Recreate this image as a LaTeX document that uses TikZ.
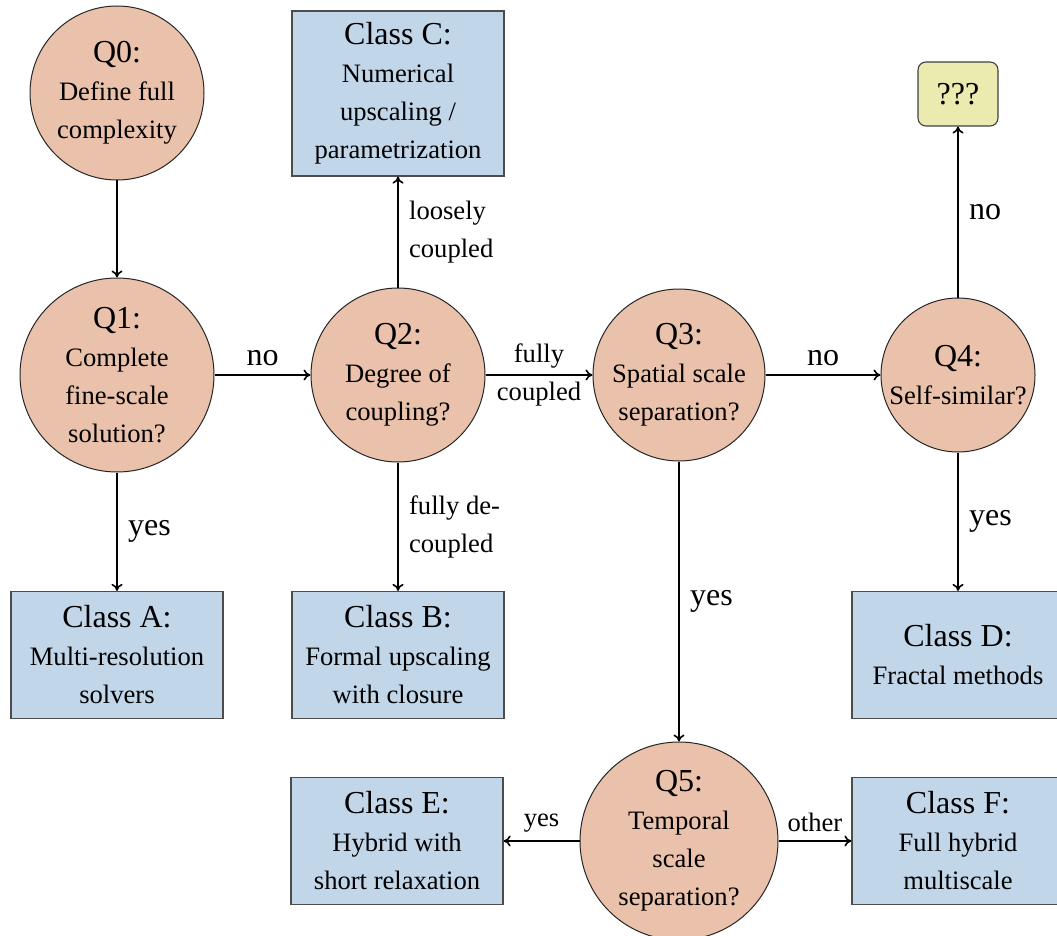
\documentclass[tikz,border=0pt]{standalone}
\usepackage{fontspec}
\setmainfont{Liberation Serif}
\usetikzlibrary{arrows.meta}
\definecolor{qfill}{HTML}{EAC1AB}
\definecolor{cfill}{HTML}{C2D6EA}
\definecolor{ufill}{HTML}{EBEBB0}
\newcommand{\bigf}{\fontsize{32}{38}\selectfont}
\newcommand{\smf}{\fontsize{26.6}{38}\selectfont}
\tikzset{
  qnode/.style={circle, draw=black!85, line width=1pt, fill=qfill, inner sep=0pt, align=center, font=\smf},
  classbox/.style={rectangle, draw=black!70, line width=1.3pt, fill=cfill, minimum width=212pt, minimum height=127pt, inner sep=0pt, align=center, font=\smf},
  unkbox/.style={rectangle, rounded corners=8pt, draw=black!75, line width=1.1pt, fill=ufill, minimum width=80pt, minimum height=64pt, inner sep=0pt, font=\bigf},
  arr/.style={-{To[length=7pt,width=11pt]}, line width=1.6pt},
  biglab/.style={font=\bigf},
  smlab/.style={font=\smf, align=left},
  rlab/.style={right, xshift=7pt},
  alab/.style={above, yshift=5pt},
}
\begin{document}
\begin{tikzpicture}[x=1pt,y=-1pt]
\useasboundingbox (0,0) rectangle (1057,936);
% question nodes
\node[qnode, minimum size=174pt] (q0) at (117,93) {{\bigf Q0:}\\Define full\\complexity};
\node[qnode, minimum size=194pt] (q1) at (117,375) {{\bigf Q1:}\\Complete\\fine-scale\\solution?};
\node[qnode, minimum size=174pt] (q2) at (398,375) {{\bigf Q2:}\\Degree of\\coupling?};
\node[qnode, minimum size=172pt] (q3) at (679,375) {{\bigf Q3:}\\Spatial scale\\separation?};
\node[qnode, minimum size=154pt] (q4) at (958,375) {{\bigf Q4:}\\Self-similar?};
\node[qnode, minimum size=198pt] (q5) at (679,841) {{\bigf Q5:}\\Temporal\\scale\\separation?};
% class boxes
\node[classbox] (ca) at (117,655) {{\bigf Class A:}\\Multi-resolution\\solvers};
\node[classbox] (cb) at (398,655) {{\bigf Class B:}\\Formal upscaling\\with closure};
\node[classbox, minimum height=165pt] (cc) at (398,93.5) {{\bigf Class C:}\\Numerical\\upscaling /\\parametrization};
\node[classbox] (cd) at (958,655) {{\bigf Class D:}\\Fractal methods};
\node[classbox] (ce) at (397,841) {{\bigf Class E:}\\Hybrid with\\short relaxation};
\node[classbox] (cf) at (958,841) {{\bigf Class F:}\\Full hybrid\\multiscale};
\node[unkbox] (unk) at (958,94) {???};
% connectors
\draw[arr] (q0) -- (q1);
\draw[arr] (q1) -- node[midway, alab, biglab] {no} (q2);
\draw[arr] (q1) -- node[midway, rlab, biglab] {yes} (ca);
\draw[arr] (q2) -- node[midway, rlab, smlab] {loosely\\coupled} (cc);
\draw[arr] (q2) -- node[midway, rlab, smlab] {fully de-\\coupled} (cb);
\draw[arr] (q2) -- node[midway, font=\smf, align=center] {fully\\coupled} (q3);
\draw[arr] (q3) -- node[midway, alab, biglab] {no} (q4);
\draw[arr] (q4) -- node[midway, rlab, biglab] {no} (unk);
\draw[arr] (q4) -- node[midway, rlab, biglab] {yes} (cd);
\draw[arr] (q3) -- node[midway, rlab, biglab] {yes} (q5);
\draw[arr] (q5) -- node[midway, alab, font=\smf] {yes} (ce);
\draw[arr] (q5) -- node[midway, alab, font=\smf] {other} (cf);
\end{tikzpicture}
\end{document}
